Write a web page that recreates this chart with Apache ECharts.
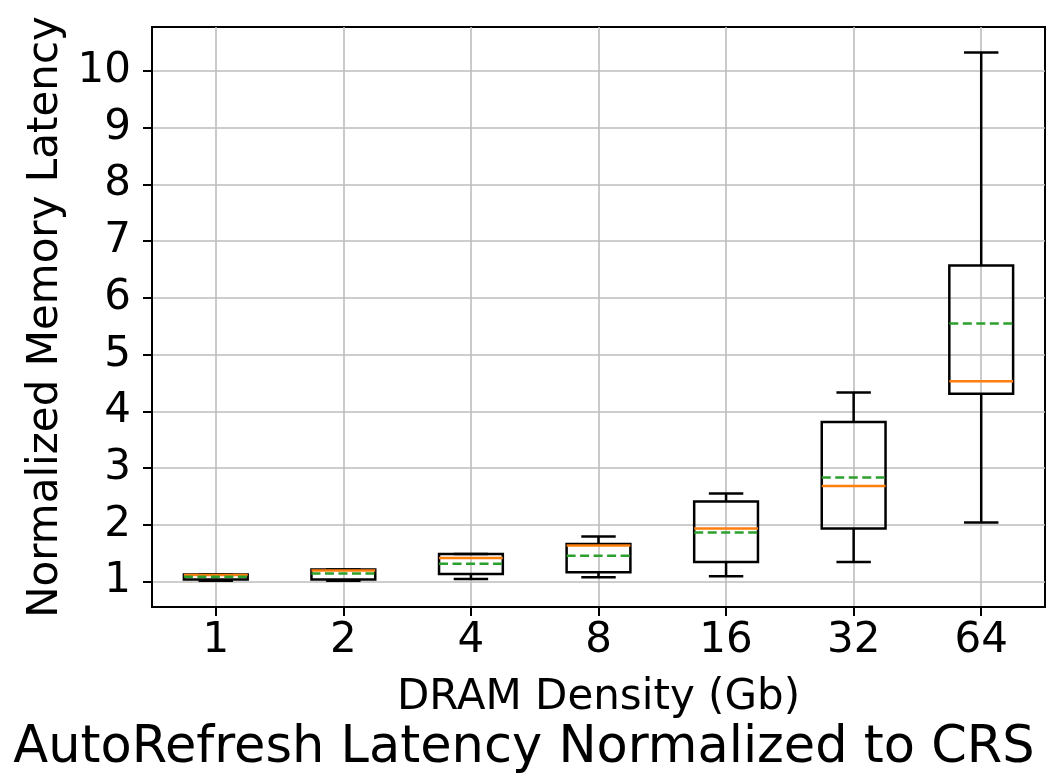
<!DOCTYPE html>
<html>
<head>
<meta charset="utf-8">
<script src="https://cdn.jsdelivr.net/npm/echarts@6/dist/echarts.min.js"></script>
<style>
  html, body { margin: 0; padding: 0; background: #fff; }
  #chart { width: 1048px; height: 781px; }
</style>
</head>
<body>
<div id="chart"></div>
<script>
// DRAM density categories (Gb)
const categories = ['1', '2', '4', '8', '16', '32', '64'];
// Box statistics per density: whisker ends, quartiles, median and mean
const whiskerLow  = [1.01, 1.01, 1.04, 1.07, 1.09, 1.34, 2.04];
const q1          = [1.03, 1.03, 1.13, 1.16, 1.34, 1.93, 4.31];
const median      = [1.11, 1.19, 1.41, 1.63, 1.93, 2.68, 4.53];
const q3          = [1.12, 1.21, 1.48, 1.66, 2.41, 3.81, 6.57];
const whiskerHigh = [1.12, 1.21, 1.48, 1.79, 2.55, 4.33, 10.33];
const mean        = [1.08, 1.14, 1.31, 1.45, 1.86, 2.83, 5.55];
// Axis tick values
const xTicks = [1, 2, 3, 4, 5, 6, 7];
const yTicks = [1, 2, 3, 4, 5, 6, 7, 8, 9, 10];

const FONT = 'DejaVu Sans';
const FONT_SIZE = 42;
const GRID_COLOR = '#bdbdbd';

const boxData = categories.map((c, i) => [
  i + 1, whiskerLow[i], q1[i], median[i], q3[i], whiskerHigh[i], mean[i]
]);

// Box with whiskers and caps, orange median line and green dashed mean line
function renderBox(params, api) {
  const x = api.value(0);
  const wl = api.coord([x, api.value(1)]);
  const lo = api.coord([x, api.value(2)]);
  const md = api.coord([x, api.value(3)]);
  const hi = api.coord([x, api.value(4)]);
  const wh = api.coord([x, api.value(5)]);
  const mn = api.coord([x, api.value(6)]);
  const boxW = api.size([0.5, 0])[0];
  const capW = api.size([0.27, 0])[0];
  const cx = lo[0];
  const black = { stroke: '#000', lineWidth: 2.5, fill: null };
  return {
    type: 'group',
    children: [
      { type: 'line', shape: { x1: cx, y1: hi[1], x2: cx, y2: wh[1] }, style: black },
      { type: 'line', shape: { x1: cx, y1: lo[1], x2: cx, y2: wl[1] }, style: black },
      { type: 'line', shape: { x1: cx - capW / 2, y1: wh[1], x2: cx + capW / 2, y2: wh[1] }, style: black },
      { type: 'line', shape: { x1: cx - capW / 2, y1: wl[1], x2: cx + capW / 2, y2: wl[1] }, style: black },
      { type: 'rect', shape: { x: cx - boxW / 2, y: hi[1], width: boxW, height: lo[1] - hi[1] }, style: black },
      { type: 'line', shape: { x1: cx - boxW / 2, y1: md[1], x2: cx + boxW / 2, y2: md[1] },
        style: { stroke: '#ff7f0e', lineWidth: 2.5 } },
      { type: 'line', shape: { x1: cx - boxW / 2, y1: mn[1], x2: cx + boxW / 2, y2: mn[1] },
        style: { stroke: '#2ca02c', lineWidth: 2.5, lineDash: [9, 4.5] } }
    ]
  };
}

const chart = echarts.init(document.getElementById('chart'), null, { renderer: 'canvas' });
chart.setOption({
  animation: false,
  backgroundColor: '#fff',
  title: {
    text: 'AutoRefresh Latency Normalized to CRS',
    left: 'center',
    bottom: 2,
    textStyle: { fontFamily: FONT, fontSize: 51, fontWeight: 'normal', color: '#000' }
  },
  grid: {
    left: 152, right: 3, top: 27, bottom: 174,
    show: true, borderColor: '#000', borderWidth: 2, backgroundColor: 'transparent'
  },
  xAxis: {
    type: 'value',
    min: 0.5, max: 7.5,
    name: 'DRAM Density (Gb)',
    nameLocation: 'middle',
    nameGap: 70,
    nameTextStyle: { fontFamily: FONT, fontSize: FONT_SIZE, color: '#000' },
    axisLine: { show: true, lineStyle: { color: '#000', width: 2 } },
    axisTick: { show: true, customValues: xTicks, length: 9, lineStyle: { color: '#000', width: 2 } },
    axisLabel: {
      customValues: xTicks, fontFamily: FONT, fontSize: FONT_SIZE, color: '#000', margin: 13,
      formatter: v => categories[Math.round(v) - 1]
    },
    splitLine: { show: true, lineStyle: { color: GRID_COLOR, width: 1.6 } }
  },
  yAxis: {
    type: 'value',
    min: 0.547, max: 10.78,
    name: 'Normalized Memory Latency',
    nameLocation: 'middle',
    nameGap: 80,
    nameTextStyle: { fontFamily: FONT, fontSize: FONT_SIZE, color: '#000' },
    axisLine: { show: true, lineStyle: { color: '#000', width: 2 } },
    axisTick: { show: true, customValues: yTicks, length: 9, lineStyle: { color: '#000', width: 2 } },
    axisLabel: { customValues: yTicks, fontFamily: FONT, fontSize: FONT_SIZE, color: '#000', margin: 21 },
    splitLine: { show: true, lineStyle: { color: GRID_COLOR, width: 1.6 } }
  },
  series: [{
    type: 'custom',
    renderItem: renderBox,
    encode: { x: 0, y: [1, 2, 3, 4, 5, 6] },
    data: boxData,
    z: 5
  }]
});
</script>
</body>
</html>
